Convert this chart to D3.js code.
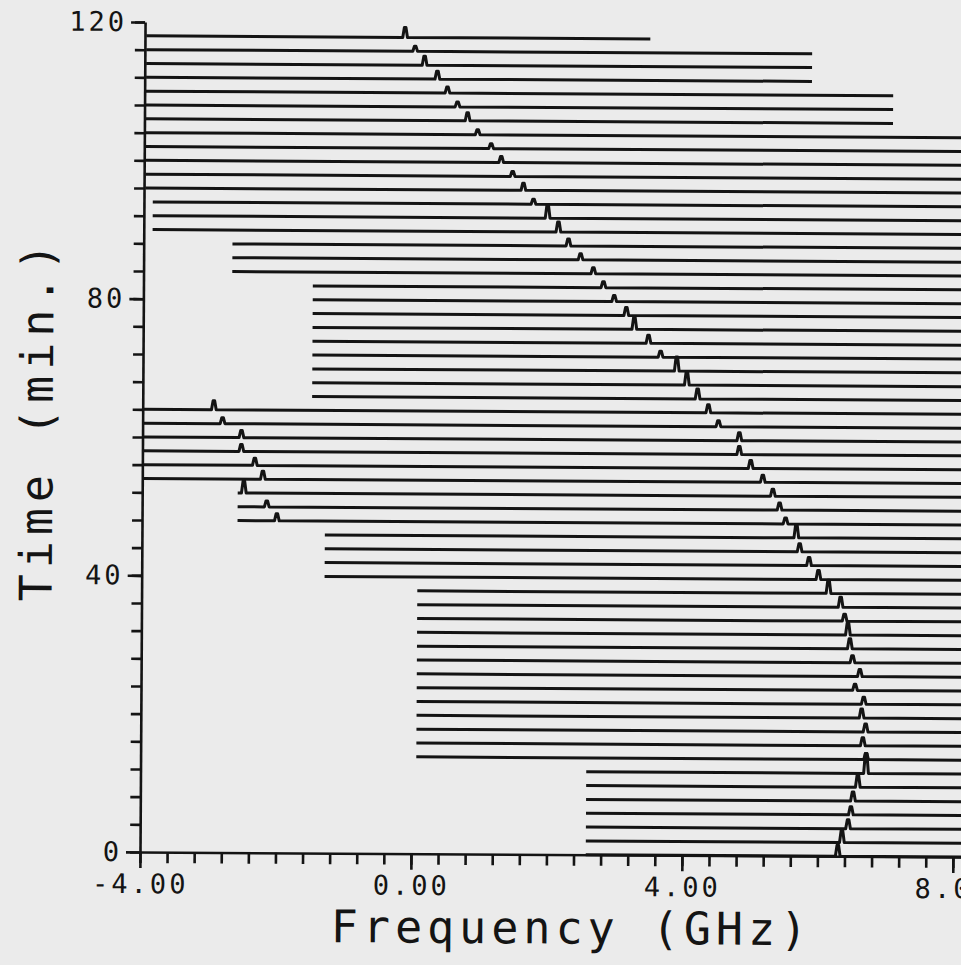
<!DOCTYPE html>
<html lang="en">
  <head>
    <meta charset="UTF-8" />
    <title>Frequency vs time waterfall</title>
    <script src="https://d3js.org/d3.v7.min.js"></script>
    <style>
      body { margin: 0; background: #ebebeb; }
      svg { display: block; }
    </style>
  </head>
  <body>
    <div id="chart"></div>
    <script>
      // one trace every 2 minutes, listed top (118 min) to bottom (0 min)
      const times = [118, 116, 114, 112, 110, 108, 106, 104, 102, 100,
        98, 96, 94, 92, 90, 88, 86, 84, 82, 80,
        78, 76, 74, 72, 70, 68, 66, 64, 62, 60,
        58, 56, 54, 52, 50, 48, 46, 44, 42, 40,
        38, 36, 34, 32, 30, 28, 26, 24, 22, 20,
        18, 16, 14, 12, 10, 8, 6, 4, 2, 0];

      // sweep start / stop of each trace (GHz)
      const startFreq = [-3.98, -3.98, -3.98, -3.98, -3.98, -3.98, -3.98, -3.98, -3.98, -3.98,
        -3.98, -3.98, -3.87, -3.87, -3.87, -2.69, -2.69, -2.69, -1.5, -1.5,
        -1.5, -1.5, -1.5, -1.5, -1.5, -1.5, -1.5, -4.0, -4.0, -4.0,
        -4.0, -4.0, -4.0, -2.59, -2.59, -2.59, -1.3, -1.3, -1.3, -1.3,
        0.07, 0.07, 0.07, 0.07, 0.07, 0.07, 0.07, 0.07, 0.07, 0.07,
        0.07, 0.07, 0.07, 2.58, 2.58, 2.58, 2.58, 2.58, 2.58, 2.58];
      const endFreq = [3.46, 5.85, 5.85, 5.85, 7.05, 7.05, 7.05, 8.6, 8.6, 8.6,
        8.6, 8.6, 8.6, 8.6, 8.6, 8.6, 8.6, 8.6, 8.6, 8.6,
        8.6, 8.6, 8.6, 8.6, 8.6, 8.6, 8.6, 8.6, 8.6, 8.6,
        8.6, 8.6, 8.6, 8.6, 8.6, 8.6, 8.6, 8.6, 8.6, 8.6,
        8.6, 8.6, 8.6, 8.6, 8.6, 8.6, 8.6, 8.6, 8.6, 8.6,
        8.6, 8.6, 8.6, 8.6, 8.6, 8.6, 8.6, 8.6, 8.6, 8.6];

      // main resonance peak of each trace
      const peakFreq = [-0.16, -0.01, 0.13, 0.32, 0.47, 0.62, 0.77, 0.92, 1.12, 1.27,
        1.44, 1.6, 1.75, 1.96, 2.12, 2.27, 2.45, 2.64, 2.79, 2.95,
        3.13, 3.25, 3.46, 3.64, 3.88, 4.03, 4.19, 4.35, 4.5, 4.81,
        4.81, 4.98, 5.16, 5.31, 5.41, 5.5, 5.66, 5.71, 5.85, 5.99,
        6.14, 6.32, 6.38, 6.43, 6.46, 6.5, 6.61, 6.54, 6.67, 6.64,
        6.7, 6.66, 6.71, 6.71, 6.59, 6.52, 6.49, 6.45, 6.36, 6.3];
      const peakHeight = [1.0, 0.5, 0.9, 0.8, 0.6, 0.5, 0.8, 0.5, 0.5, 0.6,
        0.5, 0.7, 0.5, 1.3, 1.0, 0.7, 0.6, 0.6, 0.6, 0.6,
        0.8, 1.2, 0.8, 0.6, 1.4, 1.3, 1.0, 0.8, 0.6, 0.8,
        0.8, 0.8, 0.7, 0.7, 0.7, 0.6, 1.3, 0.8, 0.8, 0.9,
        1.3, 1.0, 0.7, 1.2, 1.0, 0.7, 0.7, 0.6, 0.7, 0.9,
        0.8, 0.8, 0.6, 2.0, 1.2, 0.9, 0.8, 0.9, 1.2, 1.1];

      // second (low frequency) peak seen on a few traces
      const ghostTimes = [64, 62, 60, 58, 56, 54, 52, 50, 48];
      const ghostFreq = [-2.95, -2.82, -2.54, -2.54, -2.34, -2.22, -2.5, -2.16, -2.01];
      const ghostHeight = [0.9, 0.6, 0.7, 0.7, 0.7, 0.8, 1.2, 0.6, 0.7];

      const xMajor = [-4, 0, 4, 8];
      const yMajor = [0, 40, 80, 120];

      const width = 961;
      const height = 965;
      const ink = "#141414";
      const font = "'DejaVu Sans Mono', monospace";

      const svg = d3
        .select("#chart")
        .append("svg")
        .attr("width", width)
        .attr("height", height);

      svg.append("rect").attr("width", width).attr("height", height).attr("fill", "#ebebeb");

      // the scanned plot sits slightly tilted
      const g = svg.append("g").attr("transform", "rotate(0.35,140,852)");

      const x = d3.scaleLinear().domain([-4, 8.4]).range([140, 980]);
      const y = d3.scaleLinear().domain([0, 120]).range([852, 22]);
      const amp = d3.scaleLinear().domain([0, 1]).range([0, 10]);

      // build one row per trace
      const rows = times.map((t, i) => {
        const peaks = [{ f: peakFreq[i], h: peakHeight[i] }];
        const gi = ghostTimes.indexOf(t);
        if (gi >= 0) peaks.push({ f: ghostFreq[gi], h: ghostHeight[gi] });
        peaks.sort((a, b) => a.f - b.f);
        return { t, start: startFreq[i], end: endFreq[i], peaks };
      });

      const spike = 0.035; // half width of a peak base, GHz
      function tracePoints(r) {
        const pts = [[r.start, 0]];
        r.peaks.forEach((p) => {
          pts.push([Math.max(r.start, p.f - spike), 0]);
          pts.push([p.f - spike / 3, p.h]);
          pts.push([p.f + spike / 3, p.h]);
          pts.push([p.f + spike, 0]);
        });
        pts.push([r.end, 0]);
        return pts;
      }

      g.append("g")
        .attr("class", "traces")
        .selectAll("path")
        .data(rows)
        .join("path")
        .attr("fill", "none")
        .attr("stroke", ink)
        .attr("stroke-width", 3)
        .attr("stroke-linejoin", "round")
        .attr("d", (r) =>
          d3
            .line()
            .x((d) => x(d[0]))
            .y((d) => y(r.t) - amp(d[1]))(tracePoints(r))
        );

      // axes
      function styleAxis(sel) {
        sel.selectAll("path, line").attr("stroke", ink).attr("stroke-width", 2.6);
        sel.selectAll("text")
          .attr("fill", ink)
          .attr("font-family", font)
          .attr("font-size", 27)
          .attr("letter-spacing", 3);
      }

      const xMinor = d3.axisBottom(x).tickValues(d3.range(-4, 8.01, 0.4)).tickSize(11).tickSizeOuter(0).tickFormat("");
      const xMain = d3.axisBottom(x).tickValues(xMajor).tickSize(16).tickSizeOuter(0).tickPadding(6)
        .tickFormat((d) => d.toFixed(2));
      g.append("g").attr("transform", `translate(0,${y(0)})`).call(xMinor).call(styleAxis);
      g.append("g").attr("transform", `translate(0,${y(0)})`).call(xMain).call(styleAxis)
        .call((s) => s.select(".domain").remove());

      const yMinor = d3.axisLeft(y).tickValues(d3.range(0, 121, 4)).tickSize(10).tickSizeOuter(0).tickFormat("");
      const yMain = d3.axisLeft(y).tickValues(yMajor).tickSize(14).tickSizeOuter(0).tickPadding(4)
        .tickFormat((d) => String(d));
      g.append("g").attr("transform", `translate(${x(-4)},0)`).call(yMinor).call(styleAxis);
      g.append("g").attr("transform", `translate(${x(-4)},0)`).call(yMain).call(styleAxis)
        .call((s) => s.select(".domain").remove());

      // axis titles
      g.append("text")
        .attr("x", 572)
        .attr("y", 941)
        .attr("text-anchor", "middle")
        .attr("font-family", font)
        .attr("font-size", 45)
        .attr("letter-spacing", 5)
        .attr("fill", ink)
        .text("Frequency (GHz)");

      g.append("text")
        .attr("transform", "translate(50,420) rotate(-90)")
        .attr("text-anchor", "middle")
        .attr("font-family", font)
        .attr("font-size", 45)
        .attr("letter-spacing", 6)
        .attr("fill", ink)
        .text("Time (min.)");
    </script>
  </body>
</html>
